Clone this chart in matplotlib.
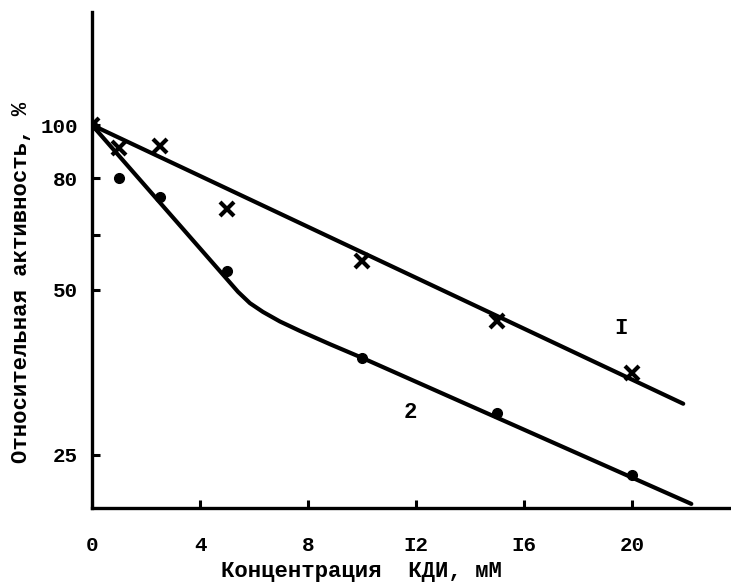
#!usr/bin/env python3
# -*- coding: utf-8 -*-

"""
Relative activity vs. KDI concentration (log y axis), two series.
"""

import matplotlib
matplotlib.use("Agg")
import matplotlib.pyplot as plt
from matplotlib.ticker import NullFormatter, NullLocator

plt.rcParams['font.family'] = ['Liberation Mono', 'DejaVu Sans Mono']
plt.rcParams['font.weight'] = 'bold'

# series 1 (crosses) and 2 (dots)
conc = [0, 1, 2.5, 5, 10, 15, 20]
act_1 = [100, 90.8, 91.6, 70.3, 56.5, 43.8, 35.2]
act_2 = [100, 80.0, 73.9, 54.1, 37.6, 29.8, 23.0]

# hand-drawn fit lines
fit1_x = [0, 21.9]
fit1_y = [100, 31.0]
fit2_x = [0, 5.41, 5.85, 6.33, 6.96, 7.7, 8.82, 10.0, 22.2]
fit2_y = [100, 49.6, 47.3, 45.6, 43.8, 42.1, 39.8, 37.6, 20.35]

x_ticks = [0, 4, 8, 12, 16, 20]
x_labels = ['0', '4', '8', 'I2', 'I6', '20']
y_ticks = [25, 50, 63, 80, 100]
y_labels = ['25', '50', '', '80', '100']

fig = plt.figure(figsize=(7.31, 5.85), dpi=100)
ax = fig.add_axes([0.1259, 0.1316, 0.8741, 0.8479])

ax.plot(fit1_x, fit1_y, color='black', lw=3.0, solid_capstyle='round')
ax.plot(fit2_x, fit2_y, color='black', lw=3.0, solid_capstyle='round',
        solid_joinstyle='round')
ax.plot(conc, act_1, ls='none', marker='x', ms=10, mew=3, color='black')
ax.plot(conc, act_2, ls='none', marker='o', ms=7, color='black')

ax.set_yscale('log')
ax.set_xlim(0, 23.67)
ax.set_ylim(20, 160.8)

ax.yaxis.set_minor_locator(NullLocator())
ax.yaxis.set_minor_formatter(NullFormatter())
ax.set_yticks(y_ticks)
ax.set_yticklabels(y_labels)
ax.set_xticks(x_ticks)
ax.set_xticklabels(x_labels)

ax.tick_params(axis='both', direction='in', length=6, width=2.2,
               labelsize=15)
ax.tick_params(axis='y', pad=10)
ax.tick_params(axis='x', pad=20)

for side in ['top', 'right']:
    ax.spines[side].set_visible(False)
for side in ['left', 'bottom']:
    ax.spines[side].set_linewidth(2.4)

ax.text(19.6, 42.6, 'I', fontsize=16, ha='center', va='center')
ax.text(11.8, 29.9, '2', fontsize=16, ha='center', va='center')

fig.text(361 / 731, 1 - 572 / 585, 'Концентрация  КДИ, мМ',
         fontsize=16, ha='center', va='center')
fig.text(22 / 731, 1 - 282 / 585, 'Относительная активность, %',
         fontsize=16, rotation=90, ha='center', va='center')

fig.savefig('out.png', dpi=100)
